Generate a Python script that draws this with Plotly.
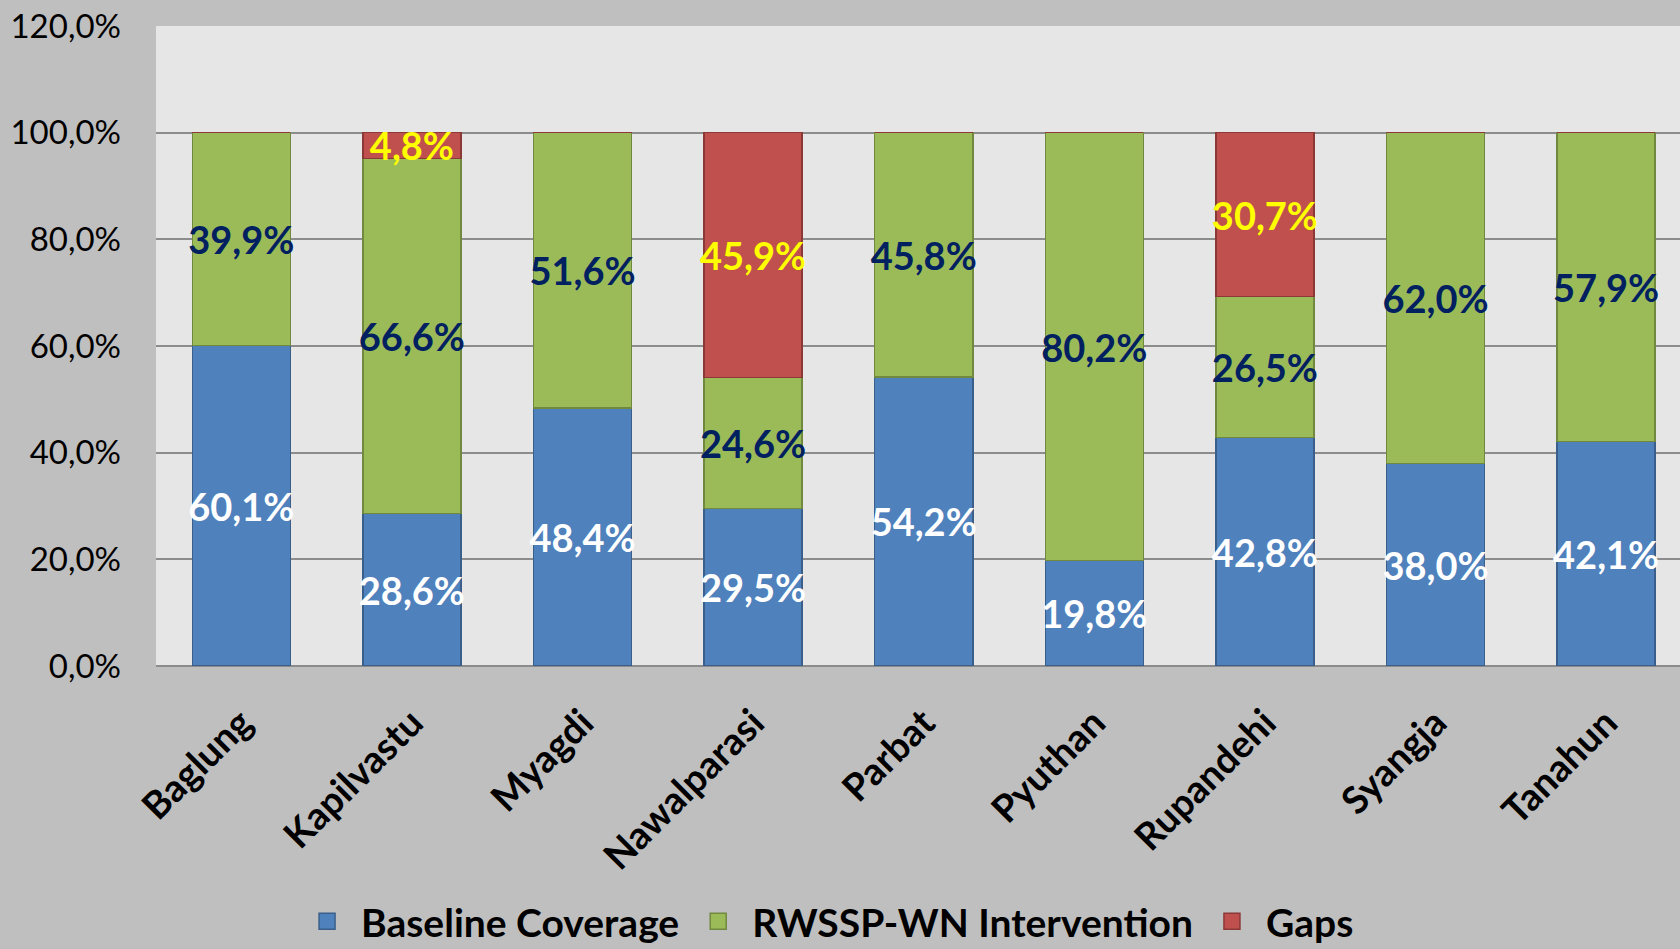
import plotly.graph_objects as go

districts = ["Baglung", "Kapilvastu", "Myagdi", "Nawalparasi", "Parbat",
             "Pyuthan", "Rupandehi", "Syangja", "Tanahun"]
baseline = [60.1, 28.6, 48.4, 29.5, 54.2, 19.8, 42.8, 38.0, 42.1]
intervention = [39.9, 66.6, 51.6, 24.6, 45.8, 80.2, 26.5, 62.0, 57.9]
gaps = [0.0, 4.8, 0.0, 45.9, 0.0, 0.0, 30.7, 0.0, 0.0]
y_ticks = [0, 20, 40, 60, 80, 100, 120]
y_tick_labels = ["0,0%", "20,0%", "40,0%", "60,0%", "80,0%", "100,0%", "120,0%"]

series = [
    ("Baseline Coverage", baseline, "#4F81BD", "#3A5F8B", "#FFFFFF"),
    ("RWSSP-WN Intervention", intervention, "#9BBB59", "#71893F", "#002060"),
    ("Gaps", gaps, "#C0504D", "#8C3836", "#FFFF00"),
]

def fmt(v):
    return (f"{v:.1f}%").replace(".", ",") if v > 0 else ""

FONT = "Lato"
fig = go.Figure()
for name, vals, fill, edge, tcol in series:
    fig.add_trace(go.Bar(
        x=districts, y=vals, name=name, showlegend=False,
        marker=dict(color=fill, line=dict(color=edge, width=1.5)),
        text=[fmt(v) for v in vals], textposition="inside",
        insidetextanchor="middle", textangle=0, constraintext="none",
        textfont=dict(family=FONT, size=38, color=tcol, weight="bold"),
        width=0.575,
    ))
for name, vals, fill, edge, tcol in series:
    fig.add_trace(go.Scatter(
        x=[None], y=[None], mode="markers", name=name,
        marker=dict(symbol="square", size=26, color=fill,
                    line=dict(color=edge, width=1.5)),
    ))

fig.update_layout(
    width=1680, height=949,
    margin=dict(l=156, r=0, t=26, b=283),
    barmode="stack",
    paper_bgcolor="#BFBFBF",
    plot_bgcolor="#E6E6E6",
    separators=",.",
    uniformtext=dict(minsize=38, mode="show"),
    font=dict(family=FONT, color="#000000"),
    legend=dict(orientation="h", xref="container", yref="container",
                x=0.4917, xanchor="center", y=0.029, yanchor="middle",
                traceorder="normal",
                font=dict(family=FONT, size=39, color="#000000", weight="bold"),
                bgcolor="rgba(0,0,0,0)", itemwidth=58),
    xaxis=dict(range=[-0.5, 8.433], tickangle=-45, showgrid=False,
               showline=False, ticks="", ticklabelstandoff=26,
               automargin=False,
               tickfont=dict(family=FONT, size=38, color="#000000", weight="bold")),
    yaxis=dict(range=[0, 120], tickvals=y_ticks, ticktext=y_tick_labels,
               showgrid=True, gridcolor="#8C8C8C", automargin=False,
               gridwidth=2, zeroline=True, zerolinecolor="#8C8C8C",
               zerolinewidth=2, showline=False, ticks="",
               ticklabelstandoff=34,
               tickfont=dict(family=FONT, size=33, color="#000000")),
)

fig.write_html(
    "out.html",
    config={"displayModeBar": False},
    post_script="document.body.style.margin='0';"
                "document.body.style.background='#BFBFBF';"
                "document.body.style.overflow='hidden';",
)
